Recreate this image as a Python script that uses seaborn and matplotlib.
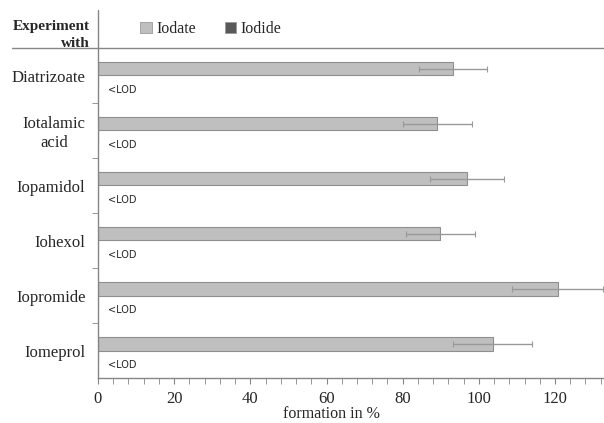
import numpy as np
import pandas as pd
import seaborn as sns
import matplotlib.pyplot as plt
from matplotlib.lines import Line2D
from matplotlib.patches import Patch
from matplotlib.ticker import MultipleLocator, FixedLocator

# values (formation in %)
compounds = ['Diatrizoate', 'Iotalamic\nacid', 'Iopamidol', 'Iohexol', 'Iopromide', 'Iomeprol']
iodate = [93.2, 89.1, 96.9, 89.9, 120.7, 103.6]
iodate_err = [9.0, 9.0, 9.6, 9.0, 12.0, 10.3]
iodide = [0, 0, 0, 0, 0, 0]  # all below limit of detection
iodide_note = ['<LOD'] * 6
species = ['Iodate', 'Iodide']

df = pd.DataFrame({
    'compound': compounds * 2,
    'formation': iodate + iodide,
    'species': [species[0]] * 6 + [species[1]] * 6,
})

sns.set_style('white')
plt.rcParams['font.family'] = ['Liberation Serif', 'DejaVu Serif']

grey = '#868686'
palette = {'Iodate': '#bfbfbf', 'Iodide': '#595959'}

fig = plt.figure(figsize=(6.04, 4.23), dpi=100)
ax = fig.add_axes([98 / 604, 45 / 423, 505 / 604, 330 / 423])

sns.barplot(data=df, y='compound', x='formation', hue='species', palette=palette,
            width=0.5, saturation=1, edgecolor='#8f8f8f', linewidth=0.8,
            legend=False, ax=ax)

# error bars on the iodate bars
bars = ax.containers[0]
ys = [p.get_y() + p.get_height() / 2 for p in bars]
ax.errorbar(iodate, ys, xerr=iodate_err, fmt='none', ecolor='#999999',
            elinewidth=1, capsize=2.5, capthick=0.8)

# <LOD labels where the iodide bars would be
for p, note in zip(ax.containers[1], iodide_note):
    ax.text(2.5, p.get_y() + p.get_height() / 2 + 0.14, note, family='DejaVu Sans',
            fontsize=7, va='center', ha='left')

ax.set_xlim(0, 132.6)
ax.set_ylim(5.5, -0.5)
ax.xaxis.set_major_locator(MultipleLocator(20))
ax.xaxis.set_minor_locator(MultipleLocator(4))
ax.yaxis.set_minor_locator(FixedLocator([0.5, 1.5, 2.5, 3.5, 4.5]))
ax.tick_params(axis='x', which='both', direction='out', length=4, color=grey,
               bottom=True, labelsize=12, pad=5)
ax.tick_params(axis='y', which='major', length=0, labelsize=12, pad=9)
ax.tick_params(axis='y', which='minor', direction='out', length=4, color=grey, left=True)
for lab in ax.get_yticklabels():
    lab.set_multialignment('center')

for s in ['top', 'right']:
    ax.spines[s].set_visible(False)
for s in ['left', 'bottom']:
    ax.spines[s].set_color(grey)
    ax.spines[s].set_linewidth(1)

ax.set_ylabel('')
ax.set_xlabel('formation in %', fontsize=11.5)
ax.xaxis.set_label_coords(0.463, -0.085)

# header row
fig.add_artist(Line2D([12 / 604, 1], [1 - 48 / 423] * 2, color=grey, lw=1))
fig.add_artist(Line2D([98 / 604] * 2, [1 - 48 / 423, 1 - 10 / 423], color=grey, lw=1))
fig.text(90 / 604, 1 - 35 / 423, 'Experiment\nwith', ha='right', va='center',
         multialignment='right', fontweight='bold', fontsize=11, linespacing=1.4)

handles = [Patch(facecolor=palette[s], edgecolor='#9a9a9a', linewidth=0.6, label=s) for s in species]
fig.legend(handles=handles, loc='center left', bbox_to_anchor=(126 / 604, 1 - 29 / 423),
           ncol=2, frameon=False, handlelength=0.7, handleheight=0.7,
           handletextpad=0.3, columnspacing=1.8, fontsize=11.5)

fig.savefig('out.png', dpi=100)
